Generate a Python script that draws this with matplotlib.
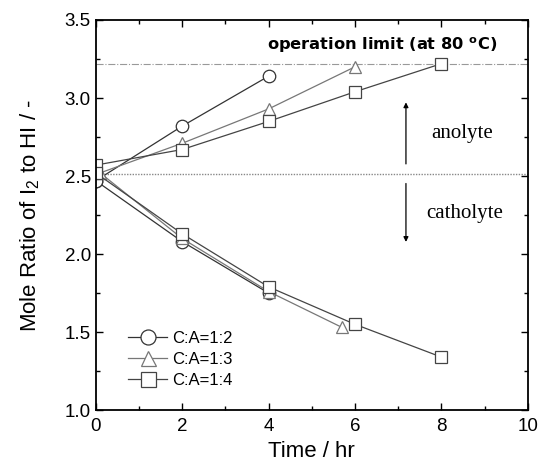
import numpy as np
import matplotlib.pyplot as plt
from matplotlib.ticker import MultipleLocator

plt.rcParams['font.family'] = ['Liberation Sans', 'DejaVu Sans']

# anolyte / catholyte branches for each C:A ratio
t12_an = [0, 2, 4]
r12_an = [2.47, 2.82, 3.14]
t12_ca = [0, 2, 4]
r12_ca = [2.47, 2.08, 1.75]

t13_an = [0.1, 2, 4, 6]
r13_an = [2.52, 2.71, 2.93, 3.20]
t13_ca = [0.1, 2, 4, 5.7]
r13_ca = [2.52, 2.10, 1.76, 1.53]

t14_an = [0, 2, 4, 6, 8]
r14_an = [2.57, 2.67, 2.85, 3.04, 3.22]
t14_ca = [0, 2, 4, 6, 8]
r14_ca = [2.52, 2.13, 1.79, 1.55, 1.34]

limit = 3.22
split = 2.51

fig = plt.figure(figsize=(5.38, 4.65), dpi=100)
ax = fig.add_axes([0.178, 0.118, 0.803, 0.839])

ax.axhline(limit, color='#999999', lw=0.8, ls='-.', zorder=1)
ax.axhline(split, color='#888888', lw=1.0, ls=(0, (1, 1)), zorder=1)

sty = dict(mfc='white', ms=9, mew=0.9, lw=0.9)
ax.plot(t12_an, r12_an, marker='o', color='#333333', label='C:A=1:2', **sty)
ax.plot(t12_ca, r12_ca, marker='o', color='#333333', **sty)
ax.plot(t13_an, r13_an, marker='^', color='#777777', label='C:A=1:3', **sty)
ax.plot(t13_ca, r13_ca, marker='^', color='#777777', **sty)
ax.plot(t14_an, r14_an, marker='s', color='#444444', label='C:A=1:4', **sty)
ax.plot(t14_ca, r14_ca, marker='s', color='#444444', **sty)

ax.annotate('', xy=(7.18, 2.99), xytext=(7.18, 2.56),
            arrowprops=dict(arrowstyle='-|>', color='black', lw=0.9, mutation_scale=7))
ax.annotate('', xy=(7.18, 2.06), xytext=(7.18, 2.47),
            arrowprops=dict(arrowstyle='-|>', color='black', lw=0.9, mutation_scale=7))
ax.text(8.47, 2.775, 'anolyte', ha='center', va='center', fontsize=15,
        family='Liberation Serif')
ax.text(8.54, 2.26, 'catholyte', ha='center', va='center', fontsize=15,
        family='Liberation Serif')
ax.text(6.63, 3.34, 'operation limit (at 80 $^{\\mathregular{o}}$C)', ha='center', va='center',
        fontsize=11.7, fontweight='bold', family='DejaVu Sans')

ax.set_xlim(0, 10)
ax.set_ylim(1.0, 3.5)
ax.xaxis.set_major_locator(MultipleLocator(2))
ax.xaxis.set_minor_locator(MultipleLocator(1))
ax.yaxis.set_major_locator(MultipleLocator(0.5))
ax.yaxis.set_minor_locator(MultipleLocator(0.25))
ax.tick_params(which='both', direction='in', top=True, right=True, labelsize=13.5)
ax.tick_params(which='major', length=5, width=1)
ax.tick_params(which='minor', length=3, width=1)
ax.tick_params(axis='x', pad=6)
for s in ax.spines.values():
    s.set_linewidth(1.3)

ax.set_xlabel('Time / hr', fontsize=16, labelpad=4)
ax.set_ylabel('Mole Ratio of I$_{\\mathregular{2}}$ to HI / -', fontsize=16, labelpad=16)

ax.legend(loc='lower left', bbox_to_anchor=(0.06, 0.04), frameon=False, fontsize=12,
          handlelength=2.3, labelspacing=0.35, handletextpad=0.3, borderaxespad=0,
          markerscale=1.2)

fig.savefig('out.png', dpi=100)
